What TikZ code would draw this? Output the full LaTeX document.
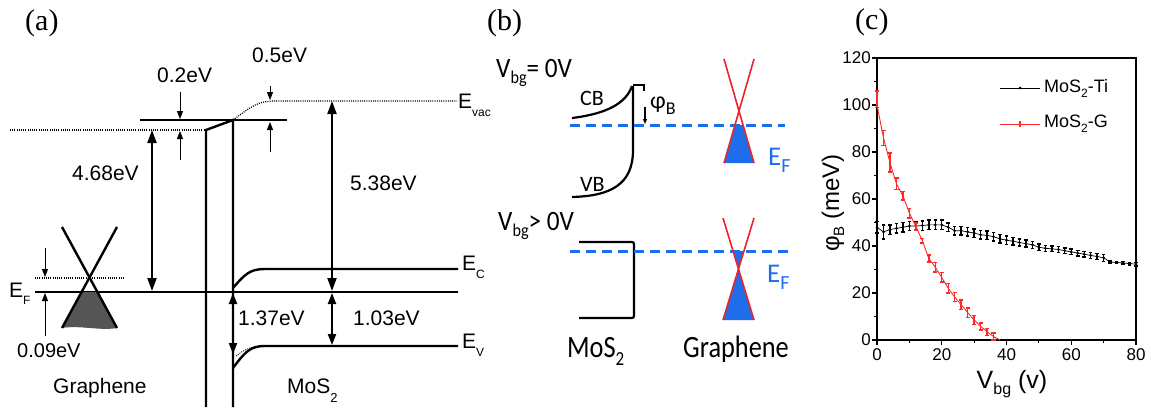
\documentclass[tikz,border=0pt]{standalone}
\usepackage{fontspec}
\setmainfont{Liberation Sans}
\newfontfamily\timesfont{Liberation Serif}
\newfontfamily\calfont{Carlito}
\usetikzlibrary{arrows.meta}
\definecolor{gfill}{RGB}{85,85,85}
\definecolor{bblue}{RGB}{30,110,235}
\definecolor{conered}{RGB}{235,35,45}
\definecolor{plotred}{RGB}{255,40,40}
\newcommand\fs[1]{\fontsize{#1}{#1}\selectfont}
\newcommand\lowsub[3][-6pt]{\raisebox{#1}{\fs{#2}#3}}
\begin{document}
\begin{tikzpicture}[x=1pt,y=-1pt,
  thk/.style={line width=2.4pt},
  efl/.style={line width=1.3pt},
  dotl/.style={line width=1.2pt,dash pattern=on 1pt off 1.2pt},
  bigarr/.style={line width=2pt,{Triangle[length=13pt,width=9pt]}-{Triangle[length=13pt,width=9pt]}},
  medarr/.style={line width=2pt,{Triangle[length=11pt,width=8pt]}-{Triangle[length=11pt,width=8pt]}},
  smarr/.style={line width=1pt,-{Triangle[length=8pt,width=6pt]}},
  lbl/.style={inner sep=0pt,anchor=base west,font=\fs{21}},
  plab/.style={inner sep=0pt,anchor=base west,font=\timesfont\fs{30}},
  blbl/.style={inner sep=0pt,anchor=base west,font=\calfont\fs{28}},
  bdash/.style={bblue,line width=3pt,dash pattern=on 10pt off 6pt},
  cone/.style={conered,line width=1.6pt},
  band/.style={line width=2.2pt},
  ebar/.style={line width=1.4pt},
]
\path[use as bounding box,fill=white] (0,0) rectangle (1151,407);

% panel labels
\node[plab] (la) at (25,30) {(a)};
\node[plab] (lb) at (487,30) {(b)};
\node[plab] (lc) at (855,29) {(c)};

% ================= panel (a)
\coordinate (vacL) at (10,130);
\coordinate (barTL) at (206,130);
\coordinate (barTR) at (233,120);
\draw[dotl] (vacL) -- (barTL);
\draw[efl] (140,120) -- (287,120);
\draw[thk] (206,407) -- (barTL) -- (barTR) -- (233,407);
\draw[dotl] (barTR) .. controls (252,106) and (258,101) .. (275,101) -- (457,101);
\node[lbl] (evac) at (458,108) {E\lowsub[-8pt]{12}{vac}};

\draw[efl] (35,292) -- (458,292);
\node[lbl] (ef) at (9,297) {E\lowsub[-7pt]{12}{F}};

\draw[thk] (233,288) .. controls (245,274) and (250,269) .. (265,269) -- (458,269);
\node[lbl] (ec) at (462,270) {E\lowsub[-8pt]{12}{C}};
\draw[thk] (233,368) .. controls (245,352) and (250,346) .. (265,346) -- (458,346);
\draw[dotl,line width=0.9pt] (236,356) .. controls (245,349) and (250,347) .. (262,346);
\node[lbl] (ev) at (462,348) {E\lowsub[-8pt]{12}{V}};

\coordinate (a468t) at (152,130); \coordinate (a468b) at (152,291);
\draw[bigarr] (a468t) -- (a468b);
\node[lbl] (t468) at (72,180) {4.68eV};
\coordinate (a538t) at (332,101); \coordinate (a538b) at (332,291);
\draw[bigarr] (a538t) -- (a538b);
\node[lbl] (t538) at (350,190) {5.38eV};
\coordinate (a103t) at (332,293); \coordinate (a103b) at (332,345);
\draw[medarr] (a103t) -- (a103b);
\node[lbl] (t103) at (353,325) {1.03eV};
\coordinate (a137t) at (233,293); \coordinate (a137b) at (233,354);
\draw[medarr] (a137t) -- (a137b);
\node[lbl] (t137) at (238,325) {1.37eV};

\coordinate (s02a) at (180,92); \coordinate (s02b) at (180,119);
\draw[smarr] (s02a) -- (s02b);
\coordinate (s02c) at (180,160); \coordinate (s02d) at (180,131);
\draw[smarr] (s02c) -- (s02d);
\node[lbl] (t02) at (157,82) {0.2eV};
\coordinate (s05a) at (270,86); \coordinate (s05b) at (270,100);
\draw[smarr] (s05a) -- (s05b);
\coordinate (s05c) at (270,152); \coordinate (s05d) at (270,122);
\draw[smarr] (s05c) -- (s05d);
\node[lbl] (t05) at (252,62) {0.5eV};
\coordinate (s09a) at (45,248); \coordinate (s09b) at (45,277);
\draw[smarr] (s09a) -- (s09b);
\coordinate (s09c) at (45,336); \coordinate (s09d) at (45,293);
\draw[smarr] (s09c) -- (s09d);
\node[lbl,font=\fs{20}] (t009) at (17,357) {0.09eV};

% graphene cone
\fill[gfill] (81.5,292) -- (97.5,292) -- (117,328) .. controls (100,331) and (80,325) .. (62,328) -- cycle;
\draw[dotl] (35,278) -- (125,278);
\draw[thk] (62,227) -- (117,328);
\draw[thk] (117,227) -- (62,328);

\node[lbl] (tgr) at (53,393) {Graphene};
\node[lbl] (tmos) at (287,393) {MoS\lowsub[-9pt]{13}{2}};

% ================= panel (b)
\node[blbl] (v0) at (496,77) {\scalebox{0.9}[1]{V\lowsub[-6pt]{18}{bg}= 0V}};
\draw[band] (572,118) .. controls (605,114) and (626,104) .. (632,86);
\draw[band] (633,86) -- (633,150) .. controls (633,185) and (610,196) .. (572,197);
\draw[line width=1.2pt] (633,85) -- (644,85) -- (644,91);
\coordinate (phia) at (645,107); \coordinate (phib) at (645,124);
\draw[line width=1.2pt,-{Triangle[length=5pt,width=4pt]}] (phia) -- (phib);
\node[blbl,font=\calfont\fs{24}] (phil) at (650,108) {φ\lowsub[-6pt]{18}{B}};
\node[blbl,font=\calfont\fs{22}] (cb) at (580,105) {CB};
\node[blbl,font=\calfont\fs{22}] (vb) at (580,191) {VB};
\draw[bdash] (570,125) -- (785,125);
\fill[bblue] (735,125) -- (743,125) -- (754,163) -- (724,163) -- cycle;
\draw[cone] (724,59) -- (754,163);
\draw[cone] (754,59) -- (724,163);
\node[blbl,text=bblue,font=\calfont\fs{27}] (ef1) at (768,165) {E\lowsub[-7pt]{20}{F}};

\node[blbl] (vg) at (498,230) {\scalebox{0.9}[1]{V\lowsub[-6pt]{18}{bg}> 0V}};
\draw[band,rounded corners=2pt] (579,242) -- (634,242) -- (634,318) -- (579,318);
\draw[bdash] (570,251) -- (790,251);
\fill[bblue] (733,251) -- (744,251) -- (738.5,269) -- (754,320) -- (723,320) -- (738.5,269) -- cycle;
\draw[cone] (723,218) -- (754,320);
\draw[cone] (754,218) -- (723,320);
\node[blbl,text=bblue,font=\calfont\fs{27}] (ef2) at (767,282) {E\lowsub[-7pt]{20}{F}};

\node[blbl,font=\calfont\fs{31}] (mosb) at (567,357) {\scalebox{0.85}[1]{MoS\lowsub[-8pt]{20}{2}}};
\node[blbl,font=\calfont\fs{31}] (grb) at (683,357) {\scalebox{0.85}[1]{Graphene}};

% ================= panel (c)
\begin{scope}[shift={(877,340)},x=3.2375pt,y=2.35pt]
  \draw[line width=1.4pt] (0,0) rectangle (80,120);
  \foreach \v in {0,20,...,120} {
    \draw[line width=1.2pt] (0,\v) -- ++(-5pt,0);
    \node[anchor=east,inner sep=0,font=\fs{17}] (yt\v) at ([xshift=-6pt]0,\v) {\v};
  }
  \foreach \v in {10,30,...,110} \draw[line width=1.2pt] (0,\v) -- ++(-3pt,0);
  \foreach \v in {0,20,...,80} {
    \draw[line width=1.2pt] (\v,0) -- ++(0,-5pt);
    \node[anchor=north,inner sep=0,font=\fs{17}] (xt\v) at ([yshift=-8pt]\v,0) {\v};
  }
  \foreach \v in {10,30,...,70} \draw[line width=1.2pt] (\v,0) -- ++(0,-3pt);

  % MoS2-Ti (black)
  \draw[line width=0.7pt] plot coordinates {(0,48) (2,46) (4,47) (6,47.5) (8,48) (10,48.5) (12,48.5) (14,48.7) (16,49) (18,49) (20,49) (22,48) (24,46.5) (26,46.5) (28,46) (30,45.5) (32,44.8) (34,44.5) (36,44) (38,43) (40,42.5) (42,42) (44,41.5) (46,41) (48,40.5) (50,39.5) (52,39) (54,38.8) (56,38.5) (58,38) (60,37.5) (62,37) (64,36.5) (66,36) (68,35.5) (70,35) (72,33.2) (74,33) (76,32.8) (78,32.5) (80,32.3)};
  \foreach \a/\b/\e in {0/48/2.5, 2/46/3, 4/47/2, 6/47.5/2, 8/48/2, 10/48.5/2, 12/48.5/2, 14/48.7/2, 16/49/2, 18/49/2, 20/49/2, 22/48/1.8, 24/46.5/1.8, 26/46.5/1.8, 28/46/1.8, 30/45.5/1.8, 32/44.8/1.8, 34/44.5/1.8, 36/44/1.8, 38/43/1.8, 40/42.5/1.8, 42/42/1.5, 44/41.5/1.5, 46/41/1.5, 48/40.5/1.5, 50/39.5/1.3, 52/39/1.3, 54/38.8/1.2, 56/38.5/1.2, 58/38/1.2, 60/37.5/1.2, 62/37/1.2, 64/36.5/1.2, 66/36/1.2, 68/35.5/1.2, 70/35/1.5, 72/33.2/0.5, 74/33/0.5, 76/32.8/0.5, 78/32.5/0.5, 80/32.3/0.8} {
    \draw[ebar] (\a,\b-\e) -- (\a,\b+\e);
    \draw[ebar] (\a-0.55,\b-\e) -- (\a+0.55,\b-\e);
    \draw[ebar] (\a-0.55,\b+\e) -- (\a+0.55,\b+\e);
    \fill (\a,\b) circle[radius=1.5pt];
  }
  % MoS2-G (red)
  \draw[plotred,line width=0.9pt] plot coordinates {(0,100) (2,86) (4,75.5) (6,66.5) (8,61.3) (10,54) (12,48.3) (14,42.3) (16,34.7) (18,31) (20,26.6) (22,22) (24,18.3) (26,15) (28,11.7) (30,8.5) (32,5.8) (34,3.5) (36,1.5) (38,0)};
  \foreach \a/\b/\e in {0/102.5/3.5, 2/86/3.2, 4/75.5/4, 6/66.5/2.5, 8/61.3/1.8, 10/54/2, 12/48.3/1.5, 14/42.3/1, 16/34.7/1.5, 18/31/2, 20/26.6/2, 22/22/2, 24/18.3/2, 26/15/2, 28/11.7/2, 30/8.5/2, 32/5.8/1.5, 34/3.5/1.5, 36/1.5/1.5} {
    \draw[ebar,plotred] (\a,\b-\e) -- (\a,\b+\e);
    \draw[ebar,plotred] (\a-0.65,\b-\e) -- (\a+0.65,\b-\e);
    \draw[ebar,plotred] (\a-0.65,\b+\e) -- (\a+0.65,\b+\e);
  }
\end{scope}

% legend
\coordinate (lg1a) at (1000,88); \coordinate (lg1b) at (1040,88);
\draw[line width=0.6pt] (lg1a) -- (lg1b);
\fill (1020,88) circle[radius=1.5pt];
\node[anchor=west,inner sep=0,font=\fs{18}] (legti) at (1044,88) {MoS\lowsub[-5pt]{12}{2}-Ti};
\coordinate (lg2a) at (1000,124); \coordinate (lg2b) at (1040,124);
\draw[plotred,line width=1pt] (lg2a) -- (lg2b);
\draw[plotred,line width=1.2pt] (1020,121) -- (1020,127);
\node[anchor=west,inner sep=0,font=\fs{18}] (legg) at (1044,124) {MoS\lowsub[-5pt]{12}{2}-G};

\node[rotate=90,inner sep=0,font=\fs{24}] (ylab) at (833,203) {φ\lowsub[-5pt]{15}{B} (meV)};
\node[anchor=base,inner sep=0,font=\fs{25}] (xlab) at (1012,388) {V\lowsub[-6pt]{16}{bg} (v)};
\end{tikzpicture}
\end{document}
